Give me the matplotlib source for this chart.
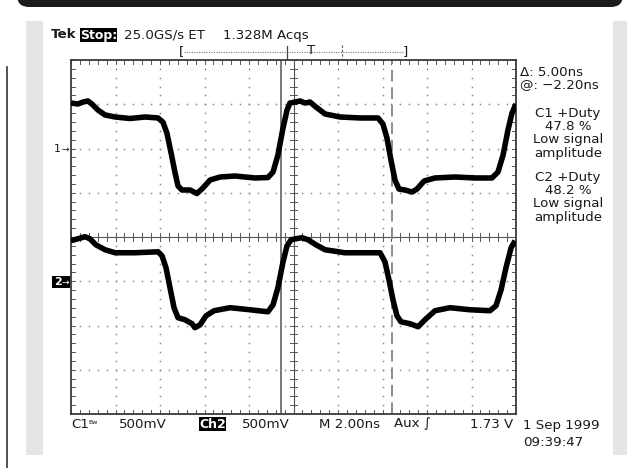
import numpy as np
import matplotlib
matplotlib.use("Agg")
import matplotlib.pyplot as plt
from matplotlib.patches import Rectangle, FancyBboxPatch

# ---------------- data (time in ns, amplitude in volts) ----------------
ch1_t = [-10.00, -9.69, -9.46, -9.24, -9.06, -8.79, -8.47, -8.02, -7.35, -6.67,
         -6.09, -5.87, -5.69, -5.51, -5.33, -5.19, -5.01, -4.65, -4.34, -4.07,
         -3.75, -3.30, -2.63, -1.73, -1.15, -0.92, -0.70, -0.47, -0.29, -0.16,
         0.07, 0.29, 0.52, 0.74, 1.01, 1.42, 2.09, 2.99, 3.80, 4.02,
         4.20, 4.38, 4.56, 4.74, 5.01, 5.33, 5.55, 5.87, 6.36, 7.26,
         8.16, 8.92, 9.19, 9.42, 9.64, 9.82, 10.00]
ch1_v = [0.514, 0.503, 0.525, 0.537, 0.503, 0.435, 0.379, 0.356, 0.339, 0.356,
         0.345, 0.299, 0.175, -0.040, -0.266, -0.424, -0.469, -0.469, -0.509, -0.446,
         -0.356, -0.322, -0.311, -0.333, -0.328, -0.266, -0.073, 0.232, 0.435, 0.514,
         0.525, 0.537, 0.514, 0.525, 0.469, 0.390, 0.356, 0.345, 0.345, 0.277,
         0.119, -0.130, -0.356, -0.458, -0.469, -0.492, -0.458, -0.367, -0.333, -0.322,
         -0.333, -0.333, -0.266, -0.073, 0.209, 0.401, 0.503]

ch2_t = [-10.00, -9.69, -9.37, -9.15, -8.88, -8.47, -8.02, -7.12, -6.09, -5.91,
         -5.73, -5.55, -5.37, -5.19, -4.88, -4.56, -4.43, -4.20, -3.93, -3.57,
         -2.85, -1.96, -1.15, -0.92, -0.70, -0.47, -0.29, -0.11,
         0.11, 0.38, 0.65, 1.01, 1.42, 2.31, 3.44, 3.89, 4.11, 4.29,
         4.47, 4.65, 4.83, 5.24, 5.60, 5.91, 6.36, 7.03, 7.93, 8.83,
         9.10, 9.33, 9.55, 9.78, 9.96]
ch2_v = [0.458, 0.480, 0.503, 0.480, 0.412, 0.356, 0.322, 0.322, 0.333, 0.288,
         0.153, -0.073, -0.299, -0.412, -0.435, -0.480, -0.525, -0.492, -0.390, -0.333,
         -0.299, -0.322, -0.345, -0.266, -0.073, 0.220, 0.401, 0.469,
         0.480, 0.492, 0.469, 0.412, 0.356, 0.322, 0.322, 0.322, 0.220, 0.017,
         -0.209, -0.390, -0.458, -0.480, -0.514, -0.435, -0.333, -0.299, -0.322, -0.333,
         -0.277, -0.096, 0.153, 0.379, 0.458]

volts_per_div = 0.5
ns_per_div = 2.0
ch1_offset_div = 2.0
ch2_offset_div = -1.0
cursor1_ns = -0.56
cursor2_ns = 4.44

header_texts = ["Tek", "Stop:", "25.0GS/s ET", "1.328M Acqs"]
side_texts = ["\u0394: 5.00ns", "@: \u22122.20ns"]
meas1 = ["C1 +Duty", "47.8 %", "Low signal", "amplitude"]
meas2 = ["C2 +Duty", "48.2 %", "Low signal", "amplitude"]
footer = ["C1", "500mV", "Ch2", "500mV", "M 2.00ns", "Aux \u222b", "1.73 V"]
date_texts = ["1 Sep 1999", "09:39:47"]

# ---------------- figure ----------------
W, H = 637, 468
fig = plt.figure(figsize=(W / 100, H / 100), dpi=100)
fig.patch.set_facecolor("white")
bg = fig.add_axes([0, 0, 1, 1])
bg.set_xlim(0, W)
bg.set_ylim(H, 0)
bg.axis("off")

FONT = "DejaVu Sans"
FS = 9.6
TC = "#1a1a1a"

# header black band
bg.add_patch(FancyBboxPatch((17, -40), 606, 47, boxstyle="round,pad=0,rounding_size=12",
                            facecolor="#1c1c1c", edgecolor="none"))
# left vertical rule
bg.plot([7, 7], [67, 468], color="#333333", lw=1.2)
# grey panel and white screen
bg.add_patch(Rectangle((26, 21), 601, 434, facecolor="#e4e5e7", edgecolor="none"))
bg.add_patch(Rectangle((43, 21), 570, 434, facecolor="white", edgecolor="none"))

# top status line
bg.text(51, 35, header_texts[0], fontsize=FS, fontweight="bold", family=FONT, va="center", ha="left", color=TC)
bg.add_patch(Rectangle((80, 28), 37, 14, facecolor="black", edgecolor="none"))
bg.text(98.5, 35, header_texts[1], fontsize=FS - 0.6, fontweight="bold", color="white", family=FONT,
        va="center", ha="center")
bg.text(124, 35, header_texts[2], fontsize=FS, family=FONT, va="center", ha="left", color=TC)
bg.text(223, 35, header_texts[3], fontsize=FS, family=FONT, va="center", ha="left", color=TC)

# record bar
bg.plot([184, 403], [52, 52], color="#777777", lw=0.8, ls=(0, (1, 1.2)))
bg.text(182, 52, "[", fontsize=FS, family=FONT, va="center", ha="center", color=TC)
bg.text(405, 52, "]", fontsize=FS, family=FONT, va="center", ha="center", color=TC)
bg.plot([287, 287], [46, 59], color="#444444", lw=0.9)
bg.plot([342, 342], [45, 59], color="#666666", lw=0.9, ls=(0, (2, 1.5)))
bg.text(311, 51, "T", fontsize=FS, family=FONT, va="center", ha="center", color=TC)

# right-side readouts
bg.text(520, 72, side_texts[0], fontsize=FS, family=FONT, va="center", ha="left", color=TC)
bg.text(520, 85, side_texts[1], fontsize=FS, family=FONT, va="center", ha="left", color=TC)
for i, s in enumerate(meas1):
    bg.text(568, 113 + i * 13.4, s, fontsize=FS, family=FONT, va="center", ha="center", color=TC)
for i, s in enumerate(meas2):
    bg.text(568, 177 + i * 13.4, s, fontsize=FS, family=FONT, va="center", ha="center", color=TC)

# footer
fy = 424
bg.text(71, fy, footer[0], fontsize=FS, family=FONT, va="center", ha="left", color=TC)
bg.text(88, fy - 2, "Bw", fontsize=4.5, family=FONT, va="center", ha="left", color=TC)
bg.text(119, fy, footer[1], fontsize=FS, family=FONT, va="center", ha="left", color=TC)
bg.add_patch(Rectangle((199, fy - 7), 27, 14, facecolor="black", edgecolor="none"))
bg.text(212.5, fy, footer[2], fontsize=FS - 0.6, fontweight="bold", color="white", family=FONT,
        va="center", ha="center")
bg.text(242, fy, footer[3], fontsize=FS, family=FONT, va="center", ha="left", color=TC)
bg.text(319, fy, footer[4], fontsize=FS, family=FONT, va="center", ha="left", color=TC)
bg.text(394, fy, footer[5], fontsize=FS, family=FONT, va="center", ha="left", color=TC)
bg.text(470, fy, footer[6], fontsize=FS, family=FONT, va="center", ha="left", color=TC)
bg.text(523, 426, date_texts[0], fontsize=FS, family=FONT, va="center", ha="left", color=TC)
bg.text(523, 442, date_texts[1], fontsize=FS, family=FONT, va="center", ha="left", color=TC)

# channel markers
bg.text(54, 149, "1", fontsize=8, family=FONT, va="center", ha="left", color=TC)
bg.text(61, 149, "\u2192", fontsize=6.5, family=FONT, va="center", ha="left", color=TC)
bg.add_patch(Rectangle((52, 276), 18, 12, facecolor="black", edgecolor="none"))
bg.text(54, 282, "2", fontsize=8, fontweight="bold", color="white", family=FONT, va="center", ha="left")
bg.text(61, 282, "\u2192", fontsize=6.5, color="white", family=FONT, va="center", ha="left")

# ---------------- scope graticule ----------------
gx0, gy0, gx1, gy1 = 71, 60, 516, 414
ax = fig.add_axes([gx0 / W, 1 - gy1 / H, (gx1 - gx0) / W, (gy1 - gy0) / H])
ax.set_facecolor("none")
ax.set_xlim(-5 * ns_per_div, 5 * ns_per_div)
ax.set_ylim(-4, 4)
ax.set_xticks([])
ax.set_yticks([])
for sp in ax.spines.values():
    sp.set_color("#3a3a3a")
    sp.set_linewidth(1.3)

xmaj = np.arange(-4, 5) * ns_per_div
ymaj = np.arange(-3, 4)
xmin = np.arange(-25, 26) * ns_per_div / 5
ymin = np.arange(-20, 21) / 5.0
gridc = "#8a8a8a"
# dotted graticule (dots every 1/5 division)
for xv in xmaj:
    if xv == 0:
        continue
    ax.plot(np.full_like(ymin, xv), ymin, ls="none", marker="s", ms=1.1, color=gridc, mew=0)
for yv in ymaj:
    if yv == 0:
        continue
    ax.plot(xmin, np.full_like(xmin, yv), ls="none", marker="s", ms=1.1, color=gridc, mew=0)
# center cross with ticks
ax.axvline(0, color="#555555", lw=0.8)
ax.axhline(0, color="#555555", lw=0.8)
tx = 0.08 * ns_per_div
ty = 0.08
for yv in ymin:
    ax.plot([-tx, tx], [yv, yv], color="#555555", lw=0.7)
for xv in xmin:
    ax.plot([xv, xv], [-ty, ty], color="#555555", lw=0.7)
# border ticks
bt = 0.09
for xv in xmin:
    ax.plot([xv, xv], [4, 4 - bt], color="#555555", lw=0.7)
    ax.plot([xv, xv], [-4, -4 + bt], color="#555555", lw=0.7)
for yv in ymin:
    ax.plot([-10, -10 + bt * ns_per_div], [yv, yv], color="#555555", lw=0.7)
    ax.plot([10, 10 - bt * ns_per_div], [yv, yv], color="#555555", lw=0.7)

# cursors
ax.axvline(cursor1_ns, color="#555555", lw=1.1)
ax.axvline(cursor2_ns, color="#8c8c8c", lw=1.4, ls=(0, (6, 3)))

# traces
y1 = np.array(ch1_v) / volts_per_div + ch1_offset_div
y2 = np.array(ch2_v) / volts_per_div + ch2_offset_div
ax.plot(ch1_t, y1, color="black", lw=4.0, solid_joinstyle="round", solid_capstyle="butt", zorder=5)
ax.plot(ch2_t, y2, color="black", lw=4.0, solid_joinstyle="round", solid_capstyle="butt", zorder=5)

fig.savefig("out.png", dpi=100)
